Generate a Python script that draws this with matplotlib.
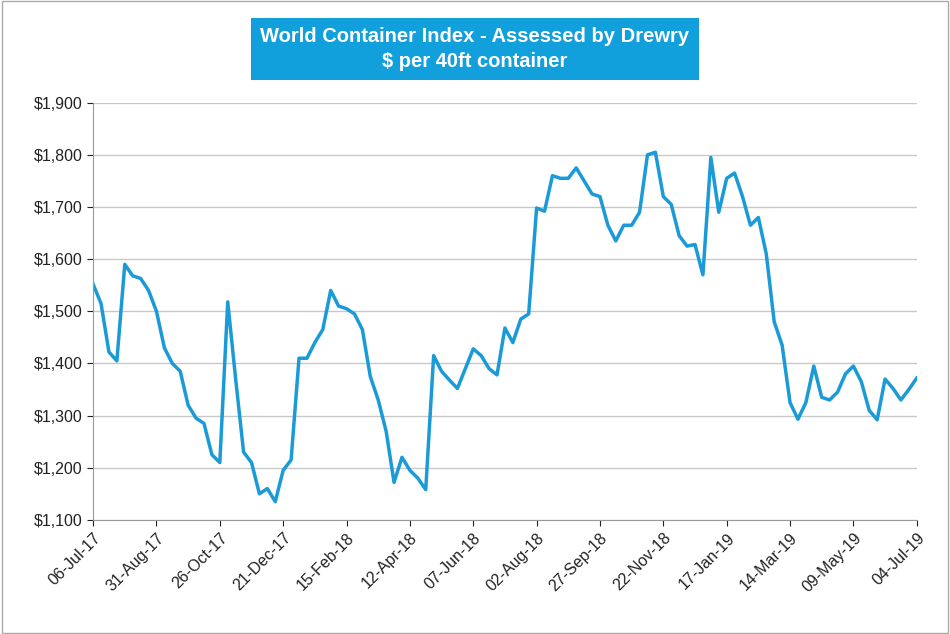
import datetime as dt
import matplotlib
matplotlib.use("Agg")
import matplotlib.pyplot as plt
import matplotlib.dates as mdates
from matplotlib.ticker import FuncFormatter, MultipleLocator

plt.rcParams["font.family"] = ["Liberation Sans", "DejaVu Sans"]

# weekly WCI composite, $ per 40ft, from 06-Jul-17
START = dt.date(2017, 7, 6)
WCI = [
    1552, 1515, 1422, 1405, 1590, 1568, 1563, 1540, 1500, 1430,
    1400, 1385, 1320, 1295, 1285, 1225, 1210, 1518, 1370, 1230,
    1210, 1150, 1160, 1135, 1195, 1215, 1410, 1410, 1440, 1465,
    1540, 1510, 1505, 1495, 1465, 1375, 1330, 1270, 1172, 1220,
    1195, 1180, 1158, 1415, 1385, 1368, 1352, 1390, 1428, 1415,
    1390, 1378, 1468, 1440, 1485, 1495, 1698, 1692, 1760, 1755,
    1755, 1775, 1750, 1725, 1720, 1665, 1635, 1665, 1665, 1690,
    1800, 1805, 1720, 1705, 1645, 1625, 1628, 1570, 1795, 1690,
    1755, 1765, 1720, 1665, 1680, 1610, 1480, 1435, 1325, 1293,
    1325, 1395, 1335, 1330, 1345, 1380, 1395, 1365, 1310, 1292,
    1370, 1352, 1330, 1350, 1372,
]
DATES = [START + dt.timedelta(weeks=i) for i in range(len(WCI))]
TICK_DATES = DATES[::8]

fig = plt.figure(figsize=(9.5, 6.34), dpi=100)
ax = fig.add_axes([0.098, 0.18, 0.867, 0.658])

ax.plot(DATES, WCI, color="#1a9bd7", linewidth=2.5)
ax.set_xlim(DATES[0], DATES[-1])
ax.set_ylim(1100, 1900)
ax.yaxis.set_major_locator(MultipleLocator(100))
ax.yaxis.set_major_formatter(FuncFormatter(lambda v, _: f"${v:,.0f}"))
ax.set_xticks(TICK_DATES)
ax.xaxis.set_major_formatter(mdates.DateFormatter("%d-%b-%y"))
plt.setp(ax.get_xticklabels(), rotation=45, ha="right", rotation_mode="anchor")
ax.tick_params(labelsize=11.5, colors="#222", length=4)
ax.grid(axis="y", color="#c8c8c8", linewidth=1)
ax.set_axisbelow(True)
for s in ("top", "right"):
    ax.spines[s].set_visible(False)
for s in ("left", "bottom"):
    ax.spines[s].set_color("#999")

fig.text(0.5, 0.923, "World Container Index - Assessed by Drewry\n$ per 40ft container",
         ha="center", va="center", color="white", fontsize=14.5, fontweight="bold",
         linespacing=1.4,
         bbox=dict(boxstyle="square,pad=0.45", facecolor="#12a0dc", edgecolor="none"))

fig.patches.append(plt.Rectangle((0.002, 0.002), 0.996, 0.996, transform=fig.transFigure,
                                 fill=False, edgecolor="#aaa", linewidth=1))
fig.savefig("out.png", dpi=100)
